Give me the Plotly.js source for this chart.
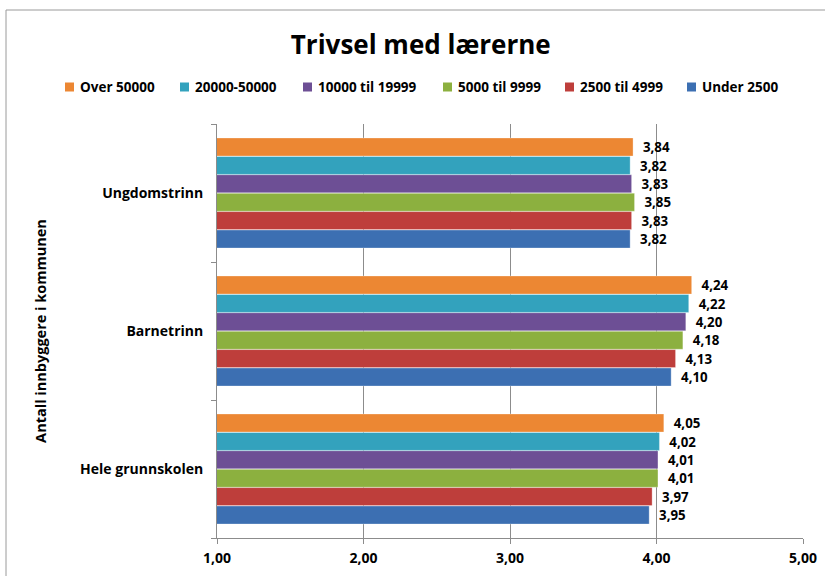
<!DOCTYPE html>
<html><head><meta charset="utf-8">
<script src="https://cdn.plot.ly/plotly-3.0.1.min.js"></script>
<style>html,body{margin:0;padding:0;background:#fff;}#chart{width:825px;height:576px;}</style>
</head><body><div id="chart"></div>
<script>
var categories = ["Hele grunnskolen", "Barnetrinn", "Ungdomstrinn"];
var seriesNames = ["Under 2500", "2500 til 4999", "5000 til 9999", "10000 til 19999", "20000-50000", "Over 50000"];
var under2500 = [3.95, 4.10, 3.82];
var s2500_4999 = [3.97, 4.13, 3.83];
var s5000_9999 = [4.01, 4.18, 3.85];
var s10000_19999 = [4.01, 4.20, 3.83];
var s20000_50000 = [4.02, 4.22, 3.82];
var over50000 = [4.05, 4.24, 3.84];
var xTickVals = [1, 2, 3, 4, 5];
var xTickText = ["1,00", "2,00", "3,00", "4,00", "5,00"];

var seriesValues = [under2500, s2500_4999, s5000_9999, s10000_19999, s20000_50000, over50000];
var colors = ["#3C6FB2", "#BE3E3B", "#8CB03F", "#6D4F95", "#33A2BD", "#EC8733"];
var font = "'Open Sans', Lato, sans-serif";
function b(s) { return "<b>" + s + "</b>"; }

// plot area in pixels (layout only)
var L = 217, R = 803, T = 124, B = 538;
function px(x) { return (x - L) / (R - L); }
function py(y) { return (B - y) / (B - T); }

var traces = seriesValues.map(function (vals, i) {
  return {
    type: "bar",
    orientation: "h",
    name: seriesNames[i],
    y: categories,
    x: vals,
    marker: {color: colors[i], line: {color: "rgba(255,255,255,0.6)", width: 0.5}},
    texttemplate: "\u00a0\u00a0<b>%{x:.2f}</b>",
    textposition: "outside",
    cliponaxis: false,
    textfont: {family: font, size: 14, color: "#000"},
    hoverinfo: "x+name",
    showlegend: false
  };
});

// legend drawn as shapes + text, in reverse series order (Over 50000 first)
var legendMarkerX = [65, 180, 303, 443, 565, 687];
var legendY = 87;
var shapes = [{type: "rect", xref: "paper", yref: "paper", x0: px(6), x1: px(840), y0: py(620), y1: py(10),
               line: {color: "#9a9a9a", width: 1}, fillcolor: "rgba(0,0,0,0)", layer: "below"}];
var annotations = [];
for (var k = 0; k < seriesNames.length; k++) {
  var i = seriesNames.length - 1 - k;
  var mx = legendMarkerX[k];
  shapes.push({type: "rect", xref: "paper", yref: "paper",
               x0: px(mx), x1: px(mx + 9), y0: py(legendY + 4.5), y1: py(legendY - 4.5),
               fillcolor: colors[i], line: {width: 0}});
  annotations.push({xref: "paper", yref: "paper", x: px(mx + 13), y: py(legendY), xanchor: "left", yanchor: "middle",
                    text: b(seriesNames[i]), showarrow: false,
                    font: {family: font, size: 13.5, color: "#000"}});
}

var layout = {
  width: 825, height: 576,
  margin: {l: L, r: 825 - R, t: T, b: 576 - B},
  paper_bgcolor: "#fff", plot_bgcolor: "#fff",
  font: {family: font, color: "#000"},
  separators: ",.",
  title: {text: "<b>Trivsel med lærerne</b>", x: 0.51, xref: "container", xanchor: "center",
          y: 0.922, yref: "container", yanchor: "middle",
          font: {family: font, size: 26, color: "#000"}},
  barmode: "group",
  bargap: 0.2,
  bargroupgap: 0.02,
  showlegend: false,
  xaxis: {
    range: [1, 5], tickvals: xTickVals, ticktext: xTickText.map(b),
    showgrid: true, gridcolor: "#8c8c8c", gridwidth: 1,
    showline: true, linecolor: "#8c8c8c", linewidth: 1, mirror: false,
    ticks: "outside", ticklen: 5, tickcolor: "#8c8c8c",
    tickfont: {family: font, size: 14, color: "#000"},
    ticklabelstandoff: 2,
    zeroline: false, fixedrange: true
  },
  yaxis: {
    type: "category",
    tickvals: categories, ticktext: categories.map(b),
    title: {text: "<b>Antall innbyggere i kommunen</b>", standoff: 30, font: {family: font, size: 14.5, color: "#000"}},
    showline: true, linecolor: "#8c8c8c", linewidth: 1,
    ticks: "outside", tickson: "boundaries", ticklen: 5, tickcolor: "#8c8c8c",
    tickfont: {family: font, size: 14, color: "#000"},
    ticklabelstandoff: 10,
    showgrid: false, fixedrange: true
  },
  shapes: shapes,
  annotations: annotations
};

Plotly.newPlot("chart", traces, layout, {displayModeBar: false, staticPlot: true});
</script>
</body></html>
